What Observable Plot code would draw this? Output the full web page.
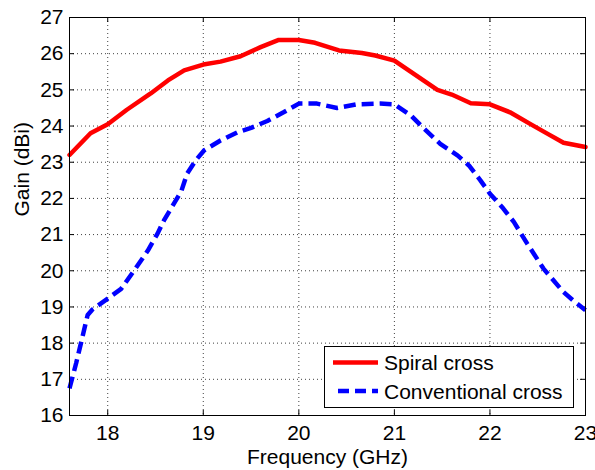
<!DOCTYPE html>
<html>
<head>
<meta charset="utf-8">
<script src="https://cdn.jsdelivr.net/npm/d3@7"></script>
<script src="https://cdn.jsdelivr.net/npm/@observablehq/plot@0.6"></script>
<style>
  html, body { margin: 0; padding: 0; background: #fff; }
</style>
</head>
<body>
<div id="chart"></div>
<script>
// Spiral cross (solid red)
const spiralFreq = [17.6, 17.82, 18.0, 18.2, 18.45, 18.63, 18.8, 19.0, 19.18, 19.39, 19.6, 19.79, 20.0, 20.17, 20.42, 20.66, 20.8, 21.0, 21.15, 21.45, 21.6, 21.8, 22.0, 22.21, 22.42, 22.6, 22.77, 23.0];
const spiralGain = [23.2, 23.8, 24.05, 24.45, 24.9, 25.26, 25.54, 25.7, 25.78, 25.93, 26.18, 26.38, 26.38, 26.3, 26.09, 26.02, 25.95, 25.81, 25.54, 25.0, 24.87, 24.63, 24.6, 24.38, 24.06, 23.79, 23.54, 23.42];

// Conventional cross (dashed blue)
const convFreq = [17.6, 17.67, 17.72, 17.79, 17.84, 18.0, 18.14, 18.28, 18.42, 18.52, 18.59, 18.77, 18.83, 18.92, 19.01, 19.18, 19.36, 19.5, 19.67, 19.84, 20.0, 20.19, 20.4, 20.6, 20.85, 21.0, 21.17, 21.31, 21.48, 21.66, 21.78, 21.9, 22.0, 22.14, 22.25, 22.39, 22.56, 22.77, 22.87, 23.0];
const convGain = [16.75, 17.45, 18.0, 18.78, 18.93, 19.23, 19.5, 20.02, 20.56, 21.02, 21.4, 22.2, 22.68, 23.05, 23.33, 23.6, 23.83, 23.95, 24.14, 24.38, 24.62, 24.62, 24.5, 24.6, 24.62, 24.6, 24.3, 23.93, 23.51, 23.19, 22.91, 22.5, 22.13, 21.72, 21.35, 20.75, 20.06, 19.41, 19.18, 18.91];

const xTicks = [18, 19, 20, 21, 22, 23];
const yTicks = [16, 17, 18, 19, 20, 21, 22, 23, 24, 25, 26, 27];
const xGrid = [18, 19, 20, 21, 22];
const yGrid = [17, 18, 19, 20, 21, 22, 23, 24, 25, 26];

const seriesNames = ["Spiral cross", "Conventional cross"];
const seriesColors = ["#ff0000", "#0000ff"];

const spiral = spiralFreq.map((f, i) => ({f, g: spiralGain[i]}));
const conv = convFreq.map((f, i) => ({f, g: convGain[i]}));

const W = 595, H = 470;
const mL = 69, mR = 10, mT = 17, mB = 55;
const pw = W - mL - mR, ph = H - mT - mB;
const font = "'Liberation Sans', Arial, Helvetica, sans-serif";
const fs = 21;

const chart = Plot.plot({
  width: W,
  height: H,
  marginLeft: mL,
  marginRight: mR,
  marginTop: mT,
  marginBottom: mB,
  style: {fontSize: fs + "px", fontFamily: font, color: "#000", background: "#fff"},
  x: {domain: [17.6, 23]},
  y: {domain: [16, 27]},
  marks: [
    Plot.gridX(xGrid, {stroke: "#000", strokeOpacity: 0.75, strokeDasharray: "1,3"}),
    Plot.gridY(yGrid, {stroke: "#000", strokeOpacity: 0.75, strokeDasharray: "1,3"}),
    Plot.tickX(xTicks, {x: d => d, insetTop: ph - 5, stroke: "#000"}),
    Plot.tickX(xTicks, {x: d => d, insetBottom: ph - 5, stroke: "#000"}),
    Plot.tickY(yTicks, {y: d => d, insetRight: pw - 5, stroke: "#000"}),
    Plot.tickY(yTicks, {y: d => d, insetLeft: pw - 5, stroke: "#000"}),
    Plot.axisX(xTicks, {tickSize: 0, tickPadding: 10, label: null, fontSize: fs}),
    Plot.axisY(yTicks, {tickSize: 0, tickPadding: 6, label: null, fontSize: fs}),
    Plot.line(spiral, {x: "f", y: "g", stroke: seriesColors[0], strokeWidth: 4.5}),
    Plot.line(conv, {x: "f", y: "g", stroke: seriesColors[1], strokeWidth: 4.5, strokeDasharray: "12,6", strokeLinecap: "butt"}),
    Plot.frame({stroke: "#000", strokeWidth: 1}),
    Plot.text(["Frequency (GHz)"], {text: d => d, frameAnchor: "bottom", dy: 48, lineAnchor: "bottom", fontSize: fs}),
    Plot.text(["Gain (dBi)"], {text: d => d, frameAnchor: "left", dx: -41, rotate: -90, lineAnchor: "bottom", fontSize: fs})
  ]
});

// Legend inside plot (lower right), as in the reference
const svg = d3.select(chart);
const lg = svg.append("g").attr("font-family", font).attr("font-size", fs).attr("text-anchor", "start");
lg.append("rect").attr("x", 324.5).attr("y", 346.5).attr("width", 249).attr("height", 61)
  .attr("fill", "#fff").attr("stroke", "#000").attr("stroke-width", 1);
const rows = [
  {ly: 362.5, ty: 370, x1: 333, dash: null},
  {ly: 391, ty: 399, x1: 338, dash: "11,6"}
];
rows.forEach((r, i) => {
  lg.append("line").attr("x1", r.x1).attr("x2", 378).attr("y1", r.ly).attr("y2", r.ly)
    .attr("stroke", seriesColors[i]).attr("stroke-width", 4.5)
    .attr("stroke-dasharray", r.dash);
  lg.append("text").attr("x", 384).attr("y", r.ty).attr("fill", "#000")
    .attr("text-anchor", "start").text(seriesNames[i]);
});

document.getElementById("chart").appendChild(chart);
</script>
</body>
</html>
